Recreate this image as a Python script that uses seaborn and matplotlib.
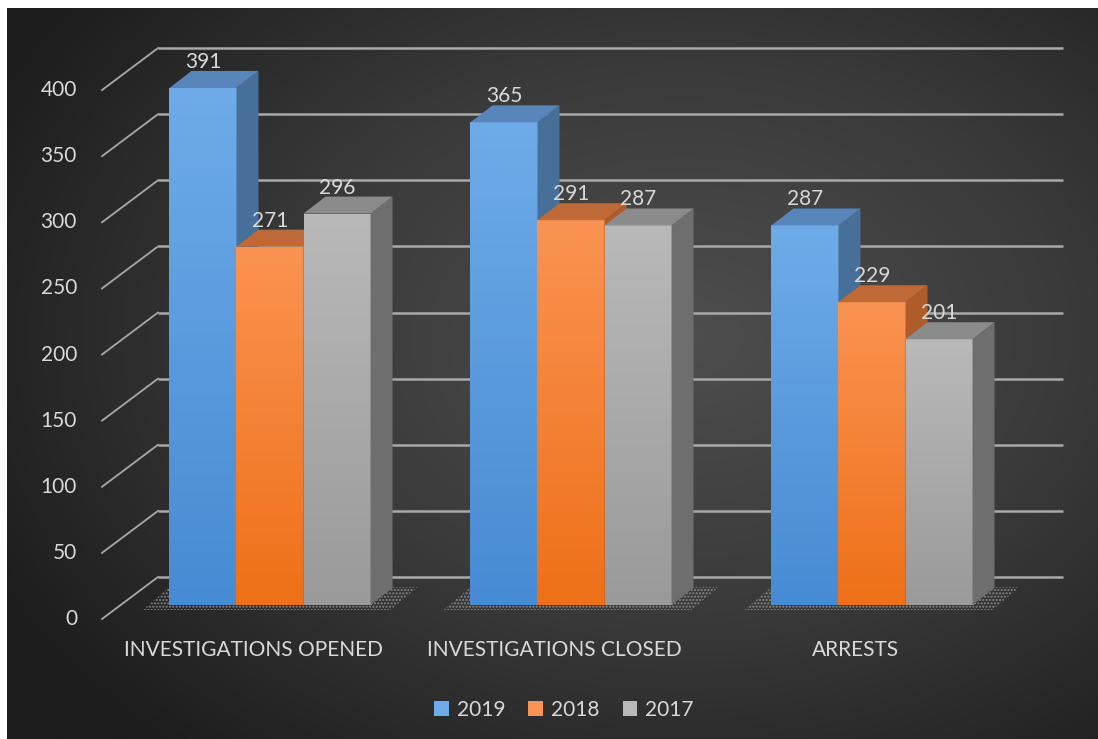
import numpy as np
import pandas as pd
import matplotlib.pyplot as plt
import seaborn as sns
from matplotlib.patches import Polygon, Patch
from matplotlib.colors import LinearSegmentedColormap

categories = ['INVESTIGATIONS OPENED', 'INVESTIGATIONS CLOSED', 'ARRESTS']
years = ['2019', '2018', '2017']
v2019 = [391, 365, 287]
v2018 = [271, 291, 229]
v2017 = [296, 287, 201]
yticks = [0, 50, 100, 150, 200, 250, 300, 350, 400]

df = pd.DataFrame({
    'category': categories * 3,
    'year': ['2019'] * 3 + ['2018'] * 3 + ['2017'] * 3,
    'value': v2019 + v2018 + v2017,
})

# face colours: front top, front bottom, top face, side face
front_top = {'2019': '#6eabe8', '2018': '#fa9352', '2017': '#b9b9b9'}
front_bot = {'2019': '#468bd4', '2018': '#ee7018', '2017': '#9a9a9a'}
top_col = {'2019': '#5886bb', '2018': '#bf6936', '2017': '#8b8b8b'}
side_col = {'2019': '#46709a', '2018': '#b05c2a', '2017': '#6e6e6e'}
txt = '#d9d9d9'
fs = 15

W, H = 1098, 739
fig = plt.figure(figsize=(W / 100, H / 100), dpi=100, facecolor='white')

# dark radial background
bg = fig.add_axes([7 / W, 0, 1 - 7 / W, 1 - 8 / H])
yy, xx = np.mgrid[0:1:300j, 0:1:400j]
r = np.sqrt(((xx - 0.62) / 0.75) ** 2 + ((yy - 0.45) / 0.8) ** 2)
bgcmap = LinearSegmentedColormap.from_list('bg', ['#4e4e4e', '#3a3a3a', '#1d1d1d'])
bg.imshow(r, cmap=bgcmap, vmin=0, vmax=0.95, aspect='auto', extent=[0, 1, 0, 1])
bg.axis('off')

# axes covering the front plane of the bars
L, R, B, T = 100, 1062, 605, 40
c0, step = 270, 301
sy = 1.3223
ax = fig.add_axes([L / W, 1 - B / H, (R - L) / W, (B - T) / H])
ax.set_facecolor('none')

sns.barplot(data=df, x='category', y='value', hue='year', hue_order=years,
            palette=front_bot, width=0.668, saturation=1, legend=False,
            linewidth=0, ax=ax)
ax.set_xlim((L - c0) / step, (R - c0) / step)
ax.set_ylim(0, (B - T) / sy)
for s in ax.spines.values():
    s.set_visible(False)
ax.set_xticks([])
ax.set_yticks([])
ax.set_xlabel('')
ax.set_ylabel('')

def px(dx):
    return dx / step

def py(dy):
    return dy / sy

ddx, ddy = px(22), py(17)

# back wall gridlines and left diagonals
for v in yticks:
    ax.plot([px(158 - c0), px(1063 - c0)], [v + py(28)] * 2, color='#a9a9a9',
            lw=1.8, zorder=1, clip_on=False, solid_capstyle='butt')
    ax.plot([px(102 - c0), px(158 - c0)], [v - py(14), v + py(28)], color='#a9a9a9',
            lw=1.3, zorder=1, clip_on=False)
    ax.text(px(77 - c0), v - py(14), str(v), ha='right', va='center',
            color=txt, fontsize=fs, clip_on=False)

# floor shadows
for ci in range(len(categories)):
    left = ax.containers[0][ci]
    right = ax.containers[-1][ci]
    x0 = left.get_x()
    x1 = right.get_x() + right.get_width()
    shadow = Polygon([(x0 - px(27), -py(5)), (x1 + px(20), -py(5)),
                      (x1 + px(47), py(18)), (x0, py(18))], closed=True,
                     facecolor='none', edgecolor='#8a8a8a', hatch='.....',
                     lw=0, zorder=1.5, clip_on=False)
    ax.add_patch(shadow)

grad = np.linspace(1, 0, 200).reshape(-1, 1)
for hi, (yr, cont) in enumerate(zip(years, ax.containers)):
    cmap = LinearSegmentedColormap.from_list(yr, [front_bot[yr], front_top[yr]])
    for bar in cont:
        x0, w, h = bar.get_x(), bar.get_width(), bar.get_height()
        z = 2 + hi * 3
        bar.set_zorder(z)
        im = ax.imshow(grad, cmap=cmap, vmin=0, vmax=1, aspect='auto',
                       extent=[x0, x0 + w, 0, h], zorder=z + 0.5)
        im.set_clip_path(bar)
        side = Polygon([(x0 + w, 0), (x0 + w + ddx, ddy), (x0 + w + ddx, h + ddy),
                        (x0 + w, h)], closed=True, facecolor=side_col[yr],
                       lw=0, zorder=z + 1)
        top = Polygon([(x0, h), (x0 + w, h), (x0 + w + ddx, h + ddy),
                       (x0 + ddx, h + ddy)], closed=True, facecolor=top_col[yr],
                      lw=0, zorder=z + 1)
        ax.add_patch(side)
        ax.add_patch(top)
        ax.text(x0 + w / 2, h + ddy - py(1), f'{h:.0f}', ha='center', va='bottom',
                color=txt, fontsize=fs, zorder=20)

ax.set_xlim((L - c0) / step, (R - c0) / step)
ax.set_ylim(0, (B - T) / sy)

# category labels
for ci, cat in enumerate(categories):
    ax.text(ci - px(17), -py(45), cat, ha='center', va='center', color=txt,
            fontsize=fs, clip_on=False)

handles = [Patch(facecolor=front_top[y], label=y) for y in years]
fig.legend(handles=handles, loc='center', bbox_to_anchor=(564 / W, 1 - 710 / H),
           ncol=3, frameon=False, fontsize=fs, labelcolor=txt, handlelength=0.7,
           handleheight=0.7, handletextpad=0.4, columnspacing=1.1)

plt.rcParams['font.family'] = ['Lato', 'DejaVu Sans']
for t in fig.findobj(plt.Text):
    t.set_family(['Lato', 'DejaVu Sans'])

fig.savefig('out.png', dpi=100, facecolor=fig.get_facecolor())
